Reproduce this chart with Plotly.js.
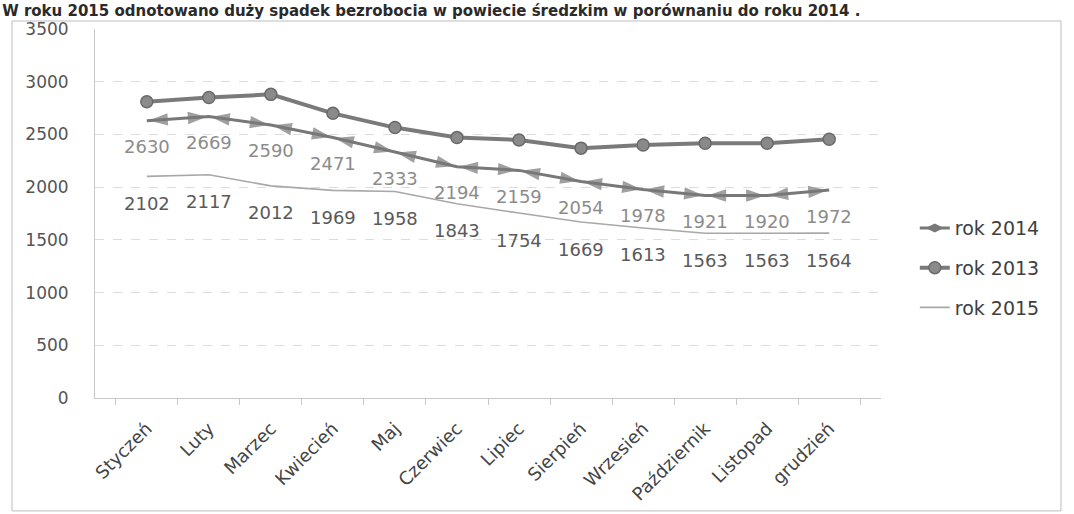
<!DOCTYPE html>
<html>
<head>
<meta charset="utf-8">
<script src="https://cdn.plot.ly/plotly-3.0.1.min.js"></script>
<style>html,body{margin:0;padding:0;background:#fff}#chart{width:1074px;height:514px}</style>
</head>
<body>
<div id="chart"></div>
<script>
const months = ['Styczeń','Luty','Marzec','Kwiecień','Maj','Czerwiec','Lipiec','Sierpień','Wrzesień','Październik','Listopad','grudzień'];
const rok2013 = [2810, 2850, 2880, 2700, 2565, 2470, 2448, 2370, 2400, 2416, 2416, 2455];
const rok2014 = [2630, 2669, 2590, 2471, 2333, 2194, 2159, 2054, 1978, 1921, 1920, 1972];
const rok2015 = [2102, 2117, 2012, 1969, 1958, 1843, 1754, 1669, 1613, 1563, 1563, 1564];
const yTickVals = [0, 500, 1000, 1500, 2000, 2500, 3000, 3500];
const titleText = 'W roku 2015 odnotowano duży spadek bezrobocia w powiecie średzkim w porównaniu do roku 2014 .';

const FONT = 'DejaVu Sans, sans-serif';
const c2014 = '#787878';

const monthsRev = months.slice().reverse();
const rok2014Rev = rok2014.slice().reverse();
const arrowSizes = months.map((m, i) => i === 0 ? 0 : 20);

const traces = [
  {
    x: months, y: rok2014, name: 'rok 2014', type: 'scatter', mode: 'lines',
    line: {color: c2014, width: 3}, showlegend: false,
    legendgroup: 'a'
  },
  {
    // legend entry for rok 2014 (no data points of its own)
    x: [null], y: [null], name: 'rok 2014', type: 'scatter', mode: 'lines+markers',
    line: {color: c2014, width: 3},
    marker: {symbol: 'diamond-wide', size: 13, color: c2014},
    legendgroup: 'a', legendrank: 1
  },
  {
    x: months, y: rok2014, type: 'scatter', mode: 'markers', showlegend: false, hoverinfo: 'skip',
    marker: {symbol: 'arrow', size: arrowSizes, color: c2014, angleref: 'previous', standoff: 2, line: {width: 0}},
    legendgroup: 'a'
  },
  {
    x: monthsRev, y: rok2014Rev, type: 'scatter', mode: 'markers', showlegend: false, hoverinfo: 'skip',
    marker: {symbol: 'arrow', size: arrowSizes, color: c2014, angleref: 'previous', standoff: 2, line: {width: 0}},
    legendgroup: 'a'
  },
  {
    x: months, y: rok2013, name: 'rok 2013', type: 'scatter', mode: 'lines+markers',
    line: {color: '#7a7a7a', width: 4},
    marker: {symbol: 'circle', size: 12, color: '#8a8a8a', line: {color: '#6a6a6a', width: 1.5}},
    legendgroup: 'b', legendrank: 2
  },
  {
    x: months, y: rok2015, name: 'rok 2015', type: 'scatter', mode: 'lines',
    line: {color: '#a8a8a8', width: 1.6},
    legendgroup: 'c', legendrank: 3
  }
];

const annotations = [];
months.forEach((m, i) => {
  annotations.push({x: m, y: rok2014[i], text: String(rok2014[i]), showarrow: false, yshift: -26,
    font: {family: FONT, size: 18, color: '#8c8c8c'}});
  annotations.push({x: m, y: rok2015[i], text: String(rok2015[i]), showarrow: false, yshift: -27,
    font: {family: FONT, size: 18, color: '#5a5a5a'}});
});

const layout = {
  width: 1074, height: 514,
  margin: {l: 95, r: 193, t: 29, b: 116},
  paper_bgcolor: '#ffffff', plot_bgcolor: '#ffffff',
  font: {family: FONT, color: '#555'},
  title: {text: titleText, x: 0.002, xanchor: 'left', xref: 'container', y: 0.99, yref: 'container', yanchor: 'top',
    font: {family: FONT, size: 15, color: '#2a2a2a', weight: 'bold'}, pad: {t: 0, b: 0, l: 0, r: 0}},
  xaxis: {
    type: 'category', tickangle: -45, tickfont: {family: FONT, size: 18, color: '#444'},
    showline: true, linecolor: '#c8c8c8', linewidth: 1,
    ticks: 'outside', tickson: 'boundaries', ticklen: 6, tickcolor: '#c8c8c8',
    ticklabelstandoff: 12,
    showgrid: false, zeroline: false
  },
  yaxis: {
    range: [0, 3500], tickvals: yTickVals, ticktext: yTickVals.map(String),
    tickfont: {family: FONT, size: 17, color: '#555'}, ticklabelstandoff: 22,
    showline: true, linecolor: '#c8c8c8', linewidth: 1,
    showgrid: true, gridcolor: '#dcdcdc', griddash: 'dash', gridwidth: 1,
    zeroline: false
  },
  legend: {
    x: 1.043, xanchor: 'left', y: 0.352, yanchor: 'middle',
    font: {family: FONT, size: 19, color: '#404040'},
    traceorder: 'grouped', tracegroupgap: 12, bgcolor: 'rgba(0,0,0,0)'
  },
  shapes: [{type: 'rect', xref: 'paper', yref: 'paper', x0: -0.1056, x1: 1.229, y0: -0.306, y1: 1.0217,
    line: {color: '#bdbdbd', width: 1}, fillcolor: 'rgba(0,0,0,0)', layer: 'below'}],
  annotations: annotations,
  showlegend: true
};

Plotly.newPlot('chart', traces, layout, {displayModeBar: false, staticPlot: true});
</script>
</body>
</html>
